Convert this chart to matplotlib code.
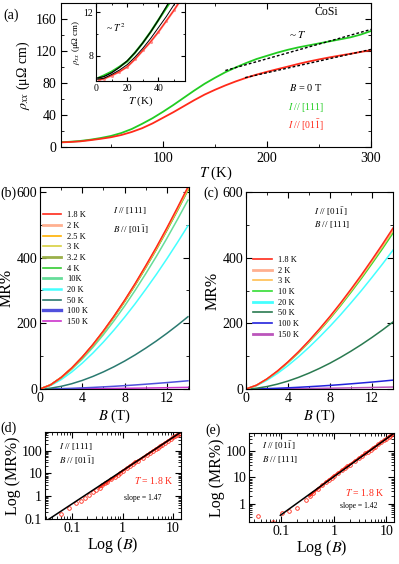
import numpy as np
import matplotlib
matplotlib.use("Agg")
import matplotlib.pyplot as plt

plt.rcParams['font.family'] = ['Liberation Serif', 'DejaVu Serif']
plt.rcParams['mathtext.fontset'] = 'stix'
plt.rcParams['xtick.direction'] = 'in'
plt.rcParams['ytick.direction'] = 'in'
plt.rcParams['xtick.top'] = True
plt.rcParams['ytick.right'] = True
plt.rcParams['axes.linewidth'] = 0.8

# ---------------- Panel (a): rho_xx vs T ----------------
T_111 = [2, 10, 20, 30, 40, 50, 60, 70, 80, 90, 100, 110, 120, 130, 140, 150, 160, 170, 180, 190, 200,
         210, 220, 230, 240, 250, 260, 270, 280, 290, 300]
rho_111 = [6.0, 6.5, 7.5, 9.1, 11.2, 13.8, 17.5, 22.5, 29, 36, 44, 52.5, 61.5, 70.5, 79, 86.5, 93.5, 99.5, 105, 110, 114,
           118, 121.5, 124.5, 127, 129.5, 132, 134.5, 137, 140.5, 145]
T_011 = [2, 10, 20, 30, 40, 50, 60, 70, 80, 90, 100, 110, 120, 130, 140, 150, 160, 170, 180, 190, 200,
         210, 220, 230, 240, 250, 260, 270, 280, 290, 300]
rho_011 = [5.8, 6.2, 7.0, 8.5, 10.2, 12.2, 15, 18.8, 23.5, 29.5, 36.5, 43.5, 51, 58.5, 65.5, 71.5, 77, 82, 86.5, 90.5, 94,
           97.3, 100.5, 103.8, 106.8, 109.5, 112, 114.3, 116.5, 118.8, 121]
fitT_111 = [160, 300]
fitrho_111 = [95.6, 147]
fitT_011 = [179, 300]
fitrho_011 = [86.7, 122]

# inset (low T)
Ti_111 = [1.8, 5, 10, 15, 20, 25, 30, 35, 40, 45, 50]
rhoi_111 = [6.0, 6.2, 6.55, 7.0, 7.5, 8.3, 9.2, 10.2, 11.3, 12.4, 13.5]
Tfi_111 = [0, 5, 10, 15, 20, 25, 30, 35, 40, 45, 50]
rhofi_111 = [5.95, 6.1, 6.45, 6.95, 7.55, 8.3, 9.2, 10.2, 11.3, 12.5, 13.8]
Ti_011 = [1.8, 5, 10, 15, 20, 25, 30, 35, 40, 45, 50, 55]
rhoi_011 = [5.8, 5.9, 6.2, 6.55, 7.0, 7.7, 8.5, 9.3, 10.2, 11.2, 12.2, 13.3]
Tfi_011 = [0, 5, 10, 15, 20, 25, 30, 35, 40, 45, 50, 55]
rhofi_011 = [5.85, 5.95, 6.3, 6.7, 7.2, 7.9, 8.7, 9.6, 10.6, 11.6, 12.7, 13.8]

# ---------------- Panel (b): MR vs B, I//[111] ----------------
B_field = [0, 1, 2, 3, 4, 5, 6, 7, 8, 9, 10, 11, 12, 13, 14]
labels_b = ['1.8 K', '2 K', '2.5 K', '3 K', '3.2 K', '4 K', '10K', '20 K', '50 K', '100 K', '150 K']
colors_b = ['#ff2a1a', '#ffb090', '#ffb000', '#d8d040', '#9ab04a', '#33cc33', '#66dd99', '#44ffff', '#2a7a70', '#5050dd', '#cc33cc']
lw_b = [1.2, 2.0, 1.2, 1.2, 2.0, 1.2, 2.0, 1.8, 1.2, 2.4, 1.2]
MR_b_18 = [0, 12.7, 35.2, 63.9, 97.5, 135.3, 177.0, 222.0, 270.0, 321.0, 375.2, 431.1, 490.2, 551.7, 615]
MR_b_2 = [0, 12.6, 35.0, 63.6, 97.0, 134.6, 176.1, 220.9, 268.6, 319.4, 373.3, 428.9, 487.7, 548.9, 612]
MR_b_25 = [0, 12.6, 34.9, 63.4, 96.8, 134.2, 175.5, 220.2, 267.8, 318.4, 372.1, 427.6, 486.2, 547.2, 610]
MR_b_3 = [0, 12.6, 34.9, 63.3, 96.6, 134.0, 175.3, 219.9, 267.4, 317.9, 371.5, 426.9, 485.4, 546.3, 609]
MR_b_32 = [0, 12.6, 34.8, 63.1, 96.3, 133.5, 174.7, 219.1, 266.5, 316.9, 370.3, 425.5, 483.8, 544.5, 607]
MR_b_4 = [0, 12.5, 34.7, 62.9, 95.9, 133.1, 174.1, 218.4, 265.6, 315.8, 369.1, 424.1, 482.2, 542.7, 605]
MR_b_10 = [0, 11.9, 32.9, 59.7, 91.1, 126.5, 165.5, 207.6, 252.4, 300.2, 350.8, 403.1, 458.3, 515.8, 575]
MR_b_20 = [0, 10.3, 28.5, 51.6, 78.8, 109.3, 143.0, 179.4, 218.2, 259.4, 303.2, 348.4, 396.1, 445.8, 497]
MR_b_50 = [0, 2.5, 8.1, 16.0, 26.1, 38.2, 52.1, 67.7, 84.9, 103.8, 124.3, 146.0, 169.3, 194.0, 220]
MR_b_100 = [0, 0.37, 1.1, 2.1, 3.4, 4.8, 6.5, 8.2, 10.2, 12.3, 14.6, 17.0, 19.5, 22.2, 25]
MR_b_150 = [0, 0.07, 0.22, 0.43, 0.67, 0.96, 1.29, 1.65, 2.04, 2.47, 2.92, 3.40, 3.91, 4.44, 5]

# ---------------- Panel (c): MR vs B, I//[01-1] ----------------
labels_c = ['1.8 K', '2 K', '3 K', '10 K', '20 K', '50 K', '100 K', '150 K']
colors_c = ['#ff2a1a', '#ffb090', '#ffbf50', '#33dd33', '#44ffff', '#2a7a50', '#2222dd', '#bb55bb']
lw_c = [1.2, 2.0, 1.2, 1.2, 2.0, 1.2, 1.2, 2.0]
MR_c_18 = [0, 11.6, 30.9, 55.0, 82.7, 113.5, 147.1, 183.2, 221.2, 261.6, 304.1, 347.9, 394.0, 441.0, 490]
MR_c_2 = [0, 11.5, 30.7, 54.5, 82.0, 112.6, 145.9, 181.7, 219.4, 259.4, 301.6, 345.1, 390.7, 437.4, 486]
MR_c_3 = [0, 11.4, 30.4, 54.1, 81.4, 111.6, 144.7, 180.2, 217.6, 257.3, 299.1, 342.2, 387.5, 433.8, 482]
MR_c_10 = [0, 11.2, 30.0, 53.3, 80.2, 110.0, 142.6, 177.6, 214.5, 253.6, 294.8, 337.3, 381.9, 427.5, 475]
MR_c_20 = [0, 10.0, 26.7, 47.5, 71.4, 98.0, 127.0, 158.1, 191.0, 225.8, 262.5, 300.3, 340.1, 380.7, 423]
MR_c_50 = [0, 2.3, 7.5, 14.9, 24.2, 35.4, 48.3, 62.8, 78.7, 96.3, 115.3, 135.5, 157.1, 179.9, 204]
MR_c_100 = [0, 0.40, 1.2, 2.3, 3.6, 5.2, 7.0, 8.9, 11.0, 13.3, 15.8, 18.4, 21.1, 24.0, 27]
MR_c_150 = [0, 0.09, 0.27, 0.51, 0.81, 1.15, 1.55, 1.98, 2.45, 2.96, 3.50, 4.08, 4.69, 5.33, 6]

# ---------------- Panel (d): log-log, 1.8 K, I//[111] ----------------
B_d = [0.06, 0.088, 0.12, 0.147, 0.18, 0.22, 0.26, 0.3, 0.35, 0.4, 0.45, 0.5, 0.6, 0.7, 0.8, 0.9, 1.0,
       1.2, 1.4, 1.6, 1.8, 2, 2.5, 3, 3.5, 4, 4.5, 5, 5.5, 6, 7, 8, 9, 10, 11, 12, 13, 14]
MR_d = [0.17, 0.30, 0.49, 0.63, 0.82, 1.15, 1.5, 1.9, 2.4, 3.0, 3.6, 4.2, 5.6, 7.1, 8.8, 10.7, 12.7,
        16.8, 21.5, 26.5, 31.8, 35.2, 49, 63.9, 80, 97.5, 116, 135, 156, 177, 222, 270, 321, 375, 431, 490, 552, 615]
fitB_d = [0.035, 14]
fitMR_d = [0.1, 620]

# ---------------- Panel (e): log-log, 1.8 K, I//[01-1] ----------------
B_e = [0.035, 0.069, 0.103, 0.137, 0.196, 0.289, 0.35, 0.4, 0.5, 0.6, 0.7, 0.8, 0.9, 1.0, 1.2, 1.4, 1.6, 1.8, 2,
       2.5, 3, 3.5, 4, 4.5, 5, 5.5, 6, 7, 8, 9, 10, 11, 12, 13, 14]
MR_e = [0.34, 0.2, 0.44, 0.54, 0.68, 1.42, 2.0, 2.6, 3.8, 5.1, 6.6, 8.1, 9.8, 11.6, 14.9, 18.6, 22.5, 26.6, 30.9,
        42.4, 55.0, 68.5, 82.7, 97.7, 113.5, 130, 147.1, 183.2, 221.2, 261.6, 304.1, 347.9, 394.0, 441.0, 490]
fitB_e = [0.095, 14]
fitMR_e = [0.36, 490]

W, H = 399, 564
fig = plt.figure(figsize=(W / 100, H / 100), dpi=100)


def px_axes(l, t, r, b):
    return fig.add_axes([l / W, 1 - b / H, (r - l) / W, (b - t) / H])


GREEN = '#22cc22'
RED = '#ff2a1a'

# ---- (a)
axa = px_axes(61, 3, 371, 147)
axa.plot(T_111, rho_111, color=GREEN, lw=1.3)
axa.plot(T_011, rho_011, color=RED, lw=1.3)
axa.plot(fitT_111, fitrho_111, color='k', lw=1.0, ls=(0, (2, 1.5)))
axa.plot(fitT_011, fitrho_011, color='k', lw=1.0, ls=(0, (2, 1.5)))
axa.set_xlim(2, 300)
axa.set_ylim(0, 180)
axa.set_xticks([100, 200, 300])
axa.set_xticks([50, 150, 250], minor=True)
axa.set_yticks([0, 40, 80, 120, 160])
axa.set_yticks([20, 60, 100, 140], minor=True)
axa.tick_params(labelsize=10, length=4)
axa.tick_params(which='minor', length=2)
axa.set_xlabel(r'$T$ (K)', fontsize=10.5, labelpad=0)
axa.set_ylabel(r'$\rho_{xx}$ (μΩ cm)', fontsize=10, labelpad=2)
axa.text(0.855, 0.94, 'CoSi', transform=axa.transAxes, fontsize=8.5, ha='center', va='center')
axa.text(0.765, 0.78, r'~ $T$', transform=axa.transAxes, fontsize=8, ha='center', va='center')
axa.text(0.79, 0.41, r'$B$ = 0 T', transform=axa.transAxes, fontsize=7.5, ha='center', va='center')
axa.text(0.79, 0.275, r'$I$ // [111]', transform=axa.transAxes, fontsize=7, color=GREEN, ha='center', va='center')
axa.text(0.79, 0.155, r'$I$ // [01$\bar{1}$]', transform=axa.transAxes, fontsize=7, color=RED, ha='center', va='center')
fig.text(3 / W, 1 - 15 / H, '(a)', fontsize=10, ha='left', va='center')

# ---- inset
axi = px_axes(96, 3, 185, 81)
axi.plot(Ti_011, rhoi_011, color='#ff9090', lw=1.6, marker='.', ms=2.5)
axi.plot(Ti_011, rhoi_011, color=RED, lw=0.8)
axi.plot(Ti_111, rhoi_111, color=GREEN, lw=1.6)
axi.plot(Tfi_111, rhofi_111, color='k', lw=0.9)
axi.plot(Tfi_011, rhofi_011, color='k', lw=0.7)
axi.set_xlim(0, 57)
axi.set_ylim(5.7, 12.85)
axi.set_xticks([0, 20, 40])
axi.set_xticks([10, 30, 50], minor=True)
axi.set_yticks([8, 12])
axi.set_yticks([10], minor=True)
axi.tick_params(labelsize=7, length=3, pad=2)
axi.tick_params(which='minor', length=1.5)
axi.set_xlabel(r'$T$ (K)', fontsize=8, labelpad=1)
axi.set_ylabel(r'$\rho_{xx}$ (μΩ cm)', fontsize=6.5, labelpad=1)
axi.text(0.22, 0.68, r'~ $T^2$', transform=axi.transAxes, fontsize=7, ha='center', va='center')

# ---- (b)
axb = px_axes(40, 187, 189, 389)
series_b = [MR_b_18, MR_b_2, MR_b_25, MR_b_3, MR_b_32, MR_b_4, MR_b_10, MR_b_20, MR_b_50, MR_b_100, MR_b_150]
for i in reversed(range(len(series_b))):
    axb.plot(B_field, series_b[i], color=colors_b[i], lw=1.1)
handles_b = [plt.Line2D([], [], color=c, lw=l) for c, l in zip(colors_b, lw_b)]
axb.legend(handles_b, labels_b, loc='upper left', bbox_to_anchor=(0.02, 0.88), fontsize=6, frameon=False,
           handlelength=2.2, handletextpad=0.7, labelspacing=0.32, borderaxespad=0, borderpad=0)
axb.set_xlim(0, 14.1)
axb.set_ylim(0, 615)
axb.set_xticks([0, 4, 8, 12])
axb.set_xticks([2, 6, 10, 14], minor=True)
axb.set_yticks([0, 200, 400, 600])
axb.set_yticks([100, 300, 500], minor=True)
axb.tick_params(labelsize=10, length=4, pad=2)
axb.tick_params(which='minor', length=2)
axb.set_xlabel(r'$B$ (T)', fontsize=10.5, labelpad=2)
axb.set_ylabel('MR%', fontsize=11.5, labelpad=1)
axb.text(0.49, 0.885, r'$I$ // [111]', transform=axb.transAxes, fontsize=6.5, ha='left', va='center')
axb.text(0.49, 0.79, r'$B$ // [01$\bar{1}$]', transform=axb.transAxes, fontsize=6.5, ha='left', va='center')
fig.text(0, 1 - 193 / H, '(b)', fontsize=10, ha='left', va='center')

# ---- (c)
axc = px_axes(246, 192, 393, 389)
series_c = [MR_c_18, MR_c_2, MR_c_3, MR_c_10, MR_c_20, MR_c_50, MR_c_100, MR_c_150]
for i in reversed(range(len(series_c))):
    axc.plot(B_field, series_c[i], color=colors_c[i], lw=1.1)
handles_c = [plt.Line2D([], [], color=c, lw=l) for c, l in zip(colors_c, lw_c)]
axc.legend(handles_c, labels_c, loc='upper left', bbox_to_anchor=(0.05, 0.675), fontsize=6, frameon=False,
           handlelength=2.2, handletextpad=0.7, labelspacing=0.32, borderaxespad=0, borderpad=0)
axc.set_xlim(0, 14)
axc.set_ylim(0, 600)
axc.set_xticks([0, 4, 8, 12])
axc.set_xticks([2, 6, 10, 14], minor=True)
axc.set_yticks([0, 200, 400, 600])
axc.set_yticks([100, 300, 500], minor=True)
axc.tick_params(labelsize=10, length=4, pad=2)
axc.tick_params(which='minor', length=2)
axc.set_xlabel(r'$B$ (T)', fontsize=10.5, labelpad=2)
axc.set_ylabel('MR%', fontsize=11.5, labelpad=1)
axc.text(0.46, 0.9, r'$I$ // [01$\bar{1}$]', transform=axc.transAxes, fontsize=6.5, ha='left', va='center')
axc.text(0.46, 0.835, r'$B$ // [111]', transform=axc.transAxes, fontsize=6.5, ha='left', va='center')
fig.text(203 / W, 1 - 193 / H, '(c)', fontsize=10, ha='left', va='center')


def log_axes(ax, xlim, ylim, yt, ytl):
    ax.set_xscale('log')
    ax.set_yscale('log')
    ax.set_xlim(*xlim)
    ax.set_ylim(*ylim)
    ax.set_xticks([0.1, 1, 10])
    ax.set_xticklabels(['0.1', '1', '10'])
    ax.set_yticks(yt)
    ax.set_yticklabels(ytl)
    ax.tick_params(labelsize=10, length=4, pad=2)
    ax.tick_params(which='minor', length=2)
    ax.set_xlabel(r'Log ($B$)', fontsize=11.5, labelpad=0)
    ax.set_ylabel('Log (MR%)', fontsize=11.5, labelpad=0)


# ---- (d)
axd = px_axes(45, 432, 181, 519)
axd.plot(B_d[8:], MR_d[8:], color=RED, lw=1.6)
axd.plot(B_d, MR_d, ls='none', marker='o', ms=2.6, mfc='none', mec=RED, mew=0.6)
axd.plot(fitB_d, fitMR_d, color='k', lw=1.1)
log_axes(axd, (0.029, 14.4), (0.1, 650), [0.1, 1, 10, 100], ['0.1', '1', '10', '100'])
axd.text(0.1, 0.835, r'$I$ // [111]', transform=axd.transAxes, fontsize=6.5, ha='left', va='center')
axd.text(0.1, 0.67, r'$B$ // [01$\bar{1}$]', transform=axd.transAxes, fontsize=6.5, ha='left', va='center')
axd.text(0.8, 0.44, r'$T$ = 1.8 K', transform=axd.transAxes, fontsize=7, color=RED, ha='center', va='center')
axd.text(0.72, 0.24, 'slope = 1.47', transform=axd.transAxes, fontsize=5.5, ha='center', va='center')
fig.text(0, 1 - 428 / H, '(d)', fontsize=10, ha='left', va='center')

# ---- (e)
axe = px_axes(249, 433, 394, 522)
axe.plot(B_e[6:], MR_e[6:], color=RED, lw=1.6)
axe.plot(B_e, MR_e, ls='none', marker='o', ms=2.6, mfc='none', mec=RED, mew=0.6)
axe.plot(fitB_e, fitMR_e, color='k', lw=1.1)
log_axes(axe, (0.024, 14), (0.2, 500), [1, 10, 100], ['1', '10', '100'])
axe.text(0.09, 0.855, r'$I$ // [01$\bar{1}$]', transform=axe.transAxes, fontsize=6.5, ha='left', va='center')
axe.text(0.09, 0.70, r'$B$ // [111]', transform=axe.transAxes, fontsize=6.5, ha='left', va='center')
axe.text(0.8, 0.33, r'$T$ = 1.8 K', transform=axe.transAxes, fontsize=7, color=RED, ha='center', va='center')
axe.text(0.76, 0.18, 'slope = 1.42', transform=axe.transAxes, fontsize=5.5, ha='center', va='center')
fig.text(205 / W, 1 - 430 / H, '(e)', fontsize=10, ha='left', va='center')

fig.savefig('out.png', dpi=100)
